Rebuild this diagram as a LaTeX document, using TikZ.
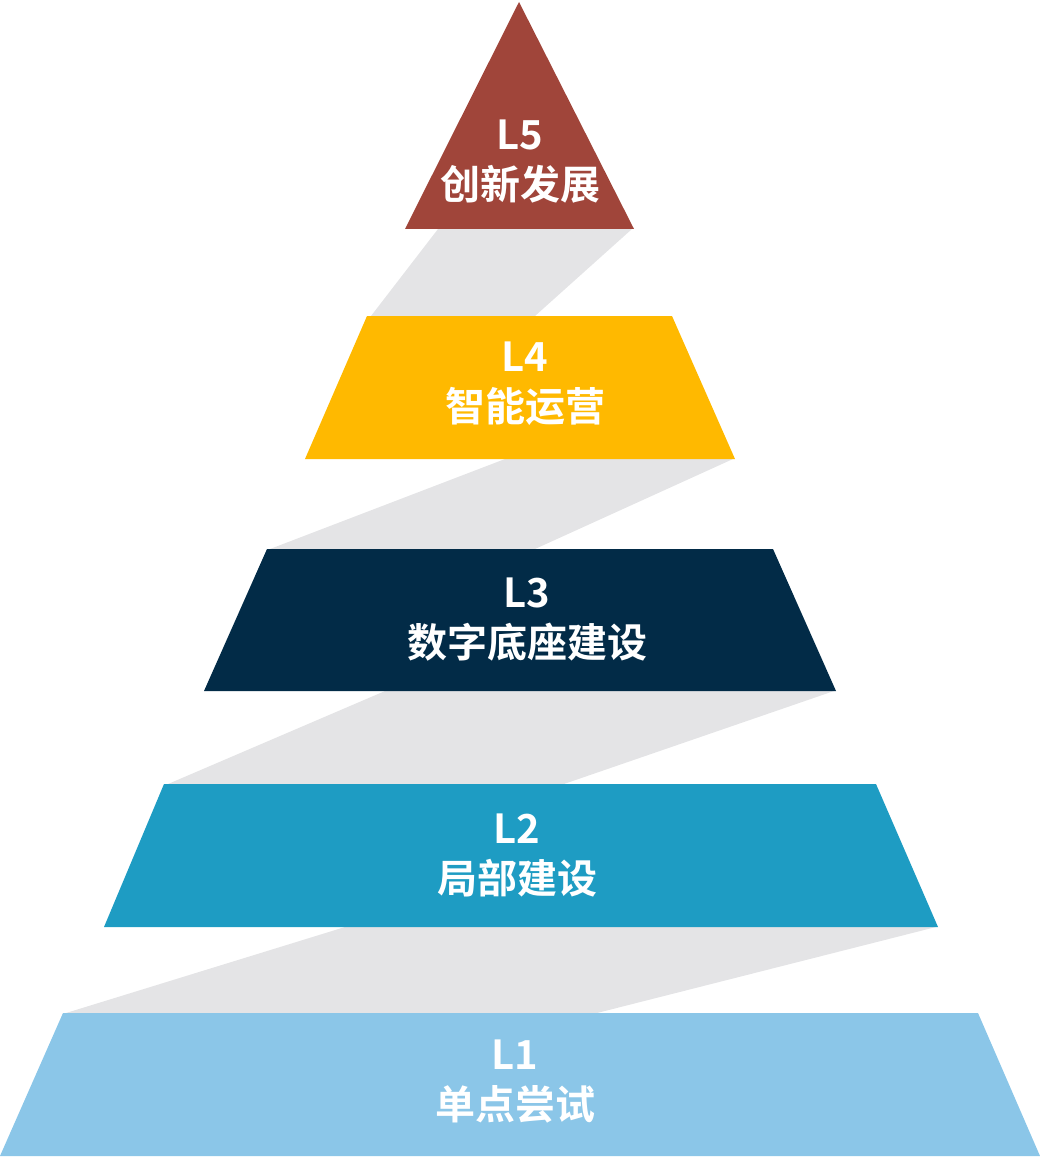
\documentclass[tikz,border=0pt]{standalone}
\usepackage{fontspec}
\setmainfont{Noto Sans CJK SC}[BoldFont={* Bold}]
\definecolor{cbrick}{RGB}{160,69,58}
\definecolor{camber}{RGB}{255,185,0}
\definecolor{cnavy}{RGB}{2,43,71}
\definecolor{cteal}{RGB}{30,156,195}
\definecolor{csky}{RGB}{139,198,232}
\definecolor{cband}{RGB}{228,228,230}
\tikzset{
  band/.style={fill=cband},
  lvl/.style={text=white,font=\bfseries\fontsize{40}{50}\selectfont,align=center,inner sep=0pt}
}
\begin{document}
\begin{tikzpicture}[x=1pt,y=-1pt]
\useasboundingbox (0,0) rectangle (1040,1158);
% bands between levels
\fill[band] (438,229) -- (632,229) -- (535,316) -- (371,316) -- cycle;
\fill[band] (505,459) -- (733,459) -- (535,549) -- (270,549) -- cycle;
\fill[band] (385,691) -- (834,691) -- (564,784) -- (168,784) -- cycle;
\fill[band] (345,927) -- (936,927) -- (597,1013) -- (66,1013) -- cycle;
% levels
\fill[cbrick] (519,2) -- (634,229) -- (405,229) -- cycle;
\fill[camber] (367,316) -- (672,316) -- (735,459) -- (305,459) -- cycle;
\fill[cnavy] (267,549) -- (773,549) -- (836,691) -- (204,691) -- cycle;
\fill[cteal] (164,784) -- (876,784) -- (938,927) -- (104,927) -- cycle;
\fill[csky] (63,1013) -- (978,1013) -- (1040,1156) -- (0,1156) -- cycle;
% labels
\node[lvl] (l5) at (520,162) {L5\\创新发展};
\node[lvl] (l4) at (525,384) {L4\\智能运营};
\node[lvl] (l3) at (527,620) {L3\\数字底座建设};
\node[lvl] (l2) at (517,855) {L2\\局部建设};
\node[lvl] (l1) at (515,1082) {L1\\单点尝试};
\end{tikzpicture}
\end{document}
